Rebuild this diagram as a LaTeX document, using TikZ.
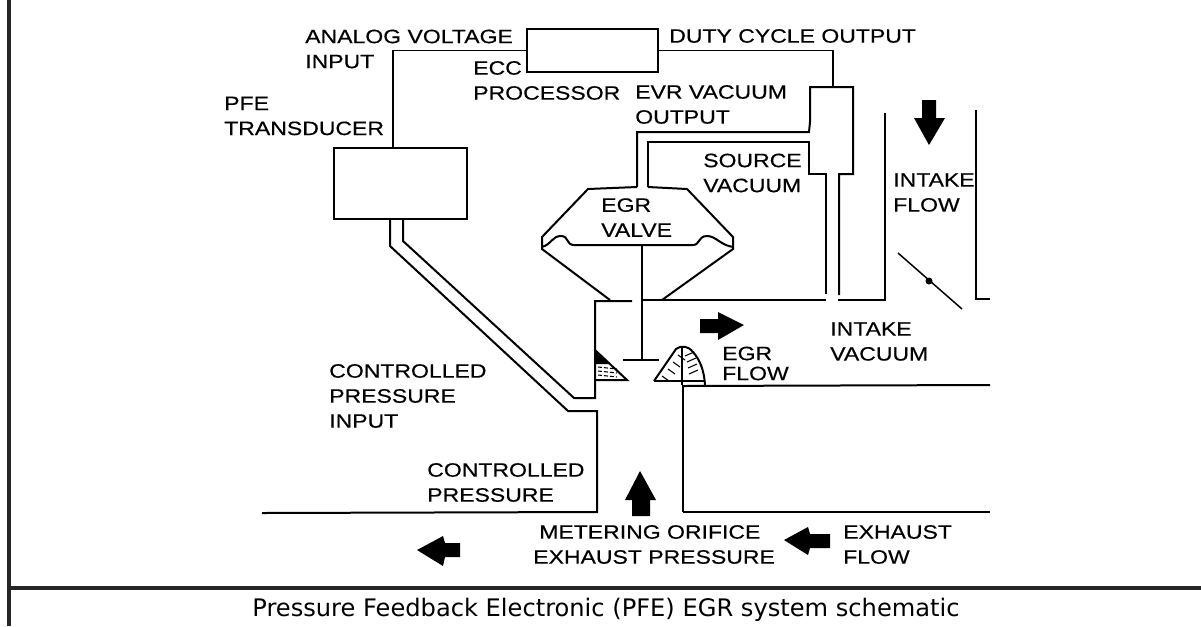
\documentclass[tikz,border=0pt]{standalone}
\usepackage{fontspec}
\setmainfont{Liberation Sans}
\newfontfamily\captionfont{DejaVu Sans}
\newfontfamily\diagfont[FakeStretch=1.19,FakeBold=0.4]{Liberation Sans}
\usepackage{xcolor}
\usepackage{tikz}
\usetikzlibrary{positioning}

\begin{document}
\begin{tikzpicture}[x=0.75pt, y=-0.75pt, line join=miter,
    lbl/.style={anchor=west, align=left, inner sep=0pt, font=\diagfont\fontsize{14.5pt}{18.75pt}\selectfont},
    pipe/.style={black, line width=1.5pt},
    thinpipe/.style={black, line width=1.1pt},
    hatch/.style={black, line width=0.8pt},
    flow/.style={fill=black, draw=none},
    boxnode/.style={draw=black, line width=1.5pt, inner sep=0pt, minimum width=#1}]
  \useasboundingbox (0,0) rectangle (1201,626);
  % page rules
  \draw[line width=2.4pt, black!85] (9,0) -- (9,626);
  \draw[line width=2.4pt, black!85] (9,588) -- (1201,588);
  \node[anchor=center, inner sep=0pt, font=\captionfont\fontsize{18.1pt}{20pt}\selectfont] (caption) at (606,610) {Pressure Feedback Electronic (PFE) EGR system schematic};

  % processor and transducer
  \node[boxnode=131*0.75pt, minimum height=32.25pt] (ecc) at (592.5,50.5) {};
  \node[boxnode=133*0.75pt, minimum height=53.25pt] (pfe) at (400.5,183.5) {};
  \coordinate (pfetop) at (393,148);
  \coordinate (evrtop) at (833,87);
  \draw[thinpipe] (ecc.west) -| (pfetop);
  \draw[thinpipe] (ecc.east) -| (evrtop);

  % solenoid body and its pipes
  \draw[pipe] (637,187) -- (637,132) -- (809,132) -- (810,122) -- (810,87) -- (853,87) -- (853,174) -- (839,174) -- (839,295);
  \draw[pipe] (648,187) -- (648,142) -- (809,142) -- (809,174) -- (826,174) -- (826,294);

  % valve housing
  \draw[pipe] (637,187) -- (588,189) -- (542,237) -- (542,249) -- (610,300);
  \draw[pipe] (648,187) -- (687,189) -- (733,237) -- (733,249) -- (662,300);
  \draw[pipe] (542,247) .. controls (552,244) and (552,236) .. (561,236) .. controls (569,236) and (566,245) .. (574,245) -- (693,245) .. controls (700,245) and (698,236) .. (707,236) .. controls (716,236) and (720,245) .. (733,247);
  \draw[pipe] (642,245) -- (642,360);
  \draw[pipe] (623,360) -- (659,360);

  % passage
  \draw[pipe] (632,301) -- (595,301) -- (595,398) -- (574,398) -- (403,241) -- (403,219);
  \draw[pipe] (390,219) -- (390,246) -- (568,411) -- (597,411) -- (597,512) -- (262,513);
  \draw[pipe] (642,300) -- (826,300);
  \draw[pipe] (838,300) -- (885,300) -- (885,195);
  \draw[thinpipe] (885,195) -- (885,113);
  \draw[pipe] (976,110) -- (976,299) -- (990,299);
  \draw[thinpipe] (898,253) -- (962,309);
  \fill (929,281) circle (3.5);

  % seats
  \draw[pipe] (595,350) -- (627,380) -- (595,380);
  \fill (595,350) -- (610,364) -- (595,364) -- cycle;
  \foreach \hy in {367,371,375}
    \draw[hatch, dashed, dash pattern=on 3pt off 1.5pt] (598,\hy) -- (617,\hy+2);
  \draw[pipe] (654,381) -- (705,381);
  \draw[pipe] (654,381) -- (676,349) .. controls (682,345) and (688,346) .. (693,352) .. controls (700,360) and (704,370) .. (705,385);
  \draw[hatch] (682,347) -- (682,385);
  \foreach \hx/\hy in {662/376,668/369,673/362,678/355}
    \draw[hatch] (\hx,\hy) -- (\hx+7,\hy+5);
  \foreach \hx/\hy in {685/356,687/362,688/368,689/374}
    \draw[hatch] (\hx,\hy) -- (\hx+9,\hy-4);
  \draw[pipe] (683,385) -- (683,512);
  \draw[pipe] (683,386) -- (990,385);
  \draw[pipe] (683,512) -- (990,512);

  % flow arrows
  \fill[flow] (922,100) -- (936,100) -- (936,118) -- (945,118) -- (929,145) -- (914,118) -- (922,118) -- cycle;
  \fill[flow] (700,319) -- (718,319) -- (718,312) -- (744,325) -- (718,340) -- (718,333) -- (700,333) -- cycle;
  \fill[flow] (632,516) -- (632,500) -- (625,500) -- (640,471) -- (656,500) -- (650,500) -- (650,516) -- cycle;
  \fill[flow] (830,534) -- (810,534) -- (808,527) -- (784,540) -- (808,555) -- (810,548) -- (830,548) -- cycle;
  \fill[flow] (460,543) -- (445,543) -- (443,536) -- (417,550) -- (443,566) -- (445,557) -- (460,557) -- cycle;

  % labels
  \node[lbl] (analog) at (305,49) {ANALOG VOLTAGE\\INPUT};
  \node[lbl] (duty) at (669,36) {DUTY CYCLE OUTPUT};
  \node[lbl] (eccproc) at (473,80.5) {ECC\\PROCESSOR};
  \node[lbl] (evrout) at (635,104.5) {EVR VACUUM\\OUTPUT};
  \node[lbl] (pfelbl) at (224,116) {PFE\\TRANSDUCER};
  \node[lbl] (source) at (703,173) {SOURCE\\VACUUM};
  \node[lbl] (valve) at (601,217.5) {EGR\\VALVE};
  \node[lbl] (intakeflow) at (893,192.5) {INTAKE\\FLOW};
  \node[lbl] (intakevac) at (830,341.5) {INTAKE\\VACUUM};
  \node[lbl] (egrflow) at (722,363.5) {EGR\\[-3.75pt]FLOW};
  \node[lbl] (ctrlinput) at (329,396) {CONTROLLED\\PRESSURE\\INPUT};
  \node[lbl] (ctrlpress) at (427,482.5) {CONTROLLED\\PRESSURE};
  \node[lbl] (metering) at (533,544.5) {\hspace*{4.5pt}METERING ORIFICE\\EXHAUST PRESSURE};
  \node[lbl] (exhaust) at (843,544.5) {EXHAUST\\FLOW};
\end{tikzpicture}
\end{document}
